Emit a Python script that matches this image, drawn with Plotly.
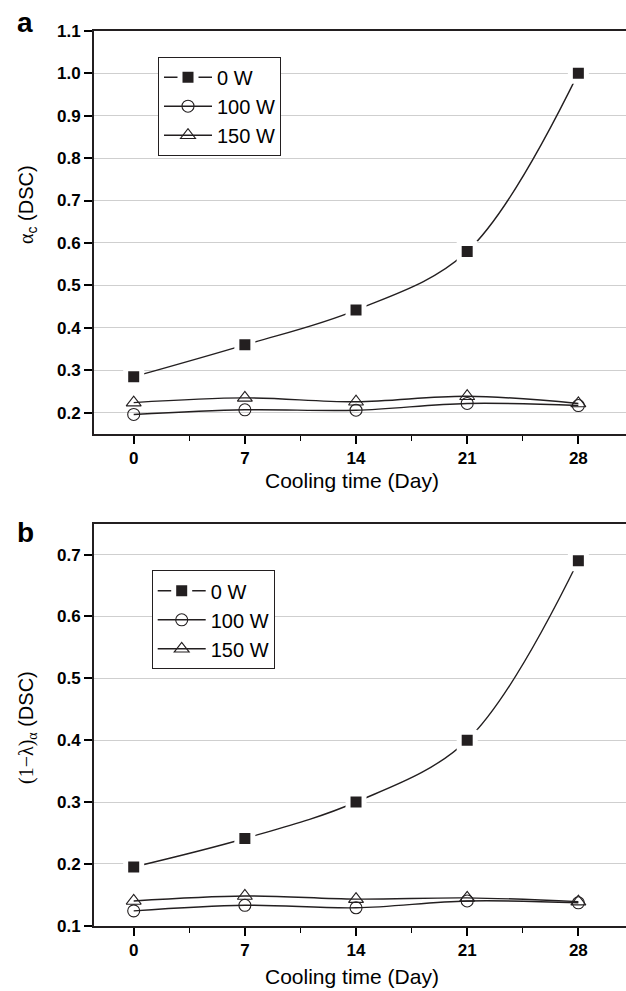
import plotly.graph_objects as go

days = [0, 7, 14, 21, 28]
x_ticks = [0, 7, 14, 21, 28]
series_names = ["0 W", "100 W", "150 W"]

# Panel a: alpha_c (DSC)
a_0W = [0.285, 0.36, 0.442, 0.58, 1.0]
a_100W = [0.196, 0.207, 0.206, 0.222, 0.217]
a_150W = [0.224, 0.235, 0.226, 0.239, 0.222]

# Panel b: (1-lambda)_alpha (DSC)
b_0W = [0.195, 0.241, 0.300, 0.400, 0.690]
b_100W = [0.124, 0.133, 0.129, 0.140, 0.137]
b_150W = [0.140, 0.148, 0.143, 0.145, 0.139]

INK = "#231f20"
W, H = 626, 991

styles = [
    dict(symbol="square", size=16, color=INK, line=dict(color="white", width=5)),
    dict(symbol="circle-open", size=12, color=INK, line=dict(width=1.1)),
    dict(symbol="triangle-up-open", size=13, color=INK, line=dict(width=1.1)),
]

fig = go.Figure()

def add_panel(vals, xa, ya, legend):
    for name, v, st in zip(series_names, vals, styles):
        fig.add_trace(go.Scatter(
            x=days, y=v, name=name, mode="lines+markers",
            line=dict(color=INK, width=1.4, shape="spline", smoothing=1),
            marker=st, xaxis=xa, yaxis=ya, legend=legend,
        ))

add_panel([a_0W, a_100W, a_150W], "x", "y", "legend")
add_panel([b_0W, b_100W, b_150W], "x2", "y2", "legend2")

def px_x(p):
    return p / W

def px_y(p):
    return 1 - p / H

xdom = [px_x(94), 1.0]
ya_dom = [px_y(434), px_y(30.7)]
yb_dom = [px_y(925.7), px_y(523.7)]

tickfont = dict(family="Arial, Liberation Sans", size=17, color="black", weight="bold")

xcommon = dict(
    range=[-2.5, 31], tickmode="array", tickvals=x_ticks, ticktext=[str(t) for t in x_ticks],
    ticks="outside", ticklen=8, tickwidth=1.5, tickcolor="black",
    showline=True, linecolor=INK, linewidth=2, mirror=True,
    showgrid=False, zeroline=False, tickfont=tickfont, domain=xdom, automargin=False,
    minor=dict(tickvals=[3.5, 10.5, 17.5, 24.5], ticks="outside", ticklen=5, tickwidth=1.2, tickcolor="black"),
)
ycommon = dict(
    ticks="outside", ticklen=8, tickwidth=1.5, tickcolor="black",
    showline=True, linecolor=INK, linewidth=2, mirror=False,
    showgrid=True, gridcolor="#cfcfcf", gridwidth=1, zeroline=False,
    tickfont=tickfont, tickformat=".1f", dtick=0.1, automargin=False,
)

legend_common = dict(xanchor="left", yanchor="top", bgcolor="white", bordercolor=INK, borderwidth=1,
                     font=dict(size=20, family="Arial, Liberation Sans", color="black"),
                     itemwidth=48, tracegroupgap=0)

fig.update_layout(
    template="none",
    width=W, height=H, margin=dict(l=0, r=0, t=0, b=0, pad=0),
    paper_bgcolor="white", plot_bgcolor="white",
    font=dict(family="Arial, Liberation Sans", color="black"),
    xaxis=dict(**xcommon, anchor="y"),
    yaxis=dict(**ycommon, range=[0.15, 1.1], tick0=0.2, domain=ya_dom, anchor="x"),
    xaxis2=dict(**xcommon, anchor="y2"),
    yaxis2=dict(**ycommon, range=[0.1, 0.75], tick0=0.1, domain=yb_dom, anchor="x2"),
    legend=dict(x=px_x(158), y=px_y(56.7), **legend_common),
    legend2=dict(x=px_x(151.7), y=px_y(570.3), **legend_common),
    showlegend=True,
)

ann = []
# panel letters
ann.append(dict(text="<b>a</b>", x=px_x(25), y=px_y(22), xref="paper", yref="paper",
                xanchor="center", yanchor="middle", showarrow=False,
                font=dict(size=28, family="Arial, Liberation Sans")))
ann.append(dict(text="<b>b</b>", x=px_x(25), y=px_y(532), xref="paper", yref="paper",
                xanchor="center", yanchor="middle", showarrow=False,
                font=dict(size=28, family="Arial, Liberation Sans")))
# x titles
for yc in (480, 976):
    ann.append(dict(text="Cooling time (Day)", x=px_x(352), y=px_y(yc), xref="paper", yref="paper",
                    xanchor="center", yanchor="middle", showarrow=False,
                    font=dict(size=21, family="Arial, Liberation Sans")))
# y titles
ann.append(dict(text='<span style="font-family:Times New Roman, Liberation Serif, serif">α</span><sub>c</sub> (DSC)',
                x=px_x(27), y=px_y(205), xref="paper", yref="paper",
                xanchor="center", yanchor="middle", textangle=-90, showarrow=False,
                font=dict(size=20, family="Arial, Liberation Sans")))
ann.append(dict(text='<span style="font-family:Times New Roman, Liberation Serif, serif">(1−λ)<sub>α</sub></span> (DSC)',
                x=px_x(27), y=px_y(728), xref="paper", yref="paper",
                xanchor="center", yanchor="middle", textangle=-90, showarrow=False,
                font=dict(size=20, family="Arial, Liberation Sans")))
fig.update_layout(annotations=ann)

fig.write_html("out.html", config={"displayModeBar": False},
               post_script="document.body.style.margin='0';document.body.style.padding='0';")
